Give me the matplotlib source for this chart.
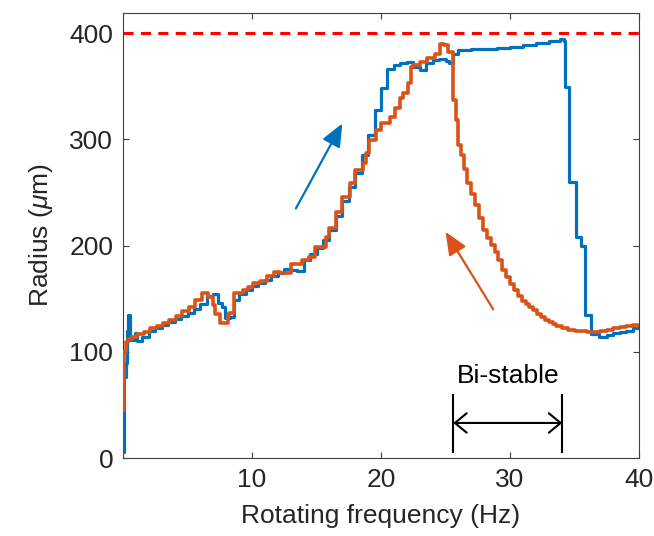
import matplotlib
matplotlib.use("Agg")
import matplotlib.pyplot as plt

plt.rcParams['font.family'] = ['Liberation Sans', 'DejaVu Sans']
plt.rcParams['mathtext.fontset'] = 'custom'
plt.rcParams['mathtext.rm'] = 'Liberation Sans'
plt.rcParams['mathtext.it'] = 'Liberation Sans:italic'

# Forward sweep (increasing frequency) - blue
up_freq = [0.0, 0.1, 0.2, 0.3, 0.4, 0.55, 0.9, 1.1, 1.5, 2.0, 2.5, 3.0, 3.5, 4.0, 4.5,
           5.0, 5.5, 6.0, 6.5, 7.0, 7.4, 7.7, 7.9, 8.3, 8.6, 9.0, 9.5, 10.0, 10.5, 11.0,
           11.5, 12.0, 12.5, 13.0, 13.5, 14.0, 14.5, 15.0, 15.5, 16.0, 16.5, 17.0, 17.5,
           18.0, 18.5, 19.0, 19.5, 20.0, 20.5, 21.0, 21.5, 22.0, 22.5, 23.0, 23.5, 24.0,
           24.5, 25.0, 25.3, 25.6, 26.0, 27.0, 28.0, 29.0, 30.0, 31.0, 32.0, 33.0, 33.9,
           34.2, 34.25, 34.55, 34.6, 35.1, 35.5, 35.8, 36.3, 36.9, 37.5, 38.0, 38.5, 39.0,
           39.5, 40.0]
up_radius = [6, 76, 89, 120, 135, 111, 118, 110, 114, 120, 122, 125, 128, 131, 134,
             137, 140, 145, 153, 154, 146, 142, 132, 133, 149, 154, 158, 162, 165, 168,
             171, 174, 178, 177, 176, 186, 192, 198, 205, 215, 228, 242, 255,
             268, 285, 304, 328, 348, 366, 370, 372, 373, 368, 365, 372, 375,
             376, 374, 372, 380, 384, 385, 385, 386, 387, 389, 391, 393, 395,
             393, 349, 334, 260, 208, 200, 135, 117, 114, 116, 118, 119, 120,
             122, 124]

# Backward sweep (decreasing frequency) - orange
down_freq = [40.0, 39.5, 39.0, 38.5, 38.0, 37.5, 37.0, 36.5, 36.0, 35.5, 35.0, 34.5, 34.0,
             33.6, 33.3, 33.0, 32.7, 32.4, 32.1, 31.8, 31.5, 31.2, 30.9, 30.6, 30.3, 30.0,
             29.7, 29.4, 29.1, 28.8, 28.5, 28.2, 27.9, 27.6, 27.3, 27.0, 26.7, 26.4, 26.2,
             26.0, 25.8, 25.6, 25.2, 24.9, 24.6, 24.2, 23.6, 23.0, 22.5,
             22.3, 22.1, 21.7, 21.5, 21.1, 20.7, 20.0, 19.6, 19.1, 18.8, 18.6, 18.0, 17.6,
             17.0, 16.5, 16.0, 15.7, 14.9, 14.4, 13.9, 13.0, 12.2, 11.7, 11.2, 10.6, 10.1,
             9.7, 9.3, 8.6, 8.6, 8.2, 8.1, 7.7, 7.5, 7.1, 7.0, 6.6, 6.1, 5.6, 5.1, 4.6, 4.1,
             3.6, 3.1, 2.6, 2.1, 1.6, 1.1, 0.7, 0.4, 0.2, 0.1]
down_radius = [125, 124, 123, 122, 121, 120, 119, 119, 120, 120, 121, 122, 124,
               126, 128, 130, 133, 136, 139, 142, 145, 148, 153, 158, 164, 170,
               177, 186, 194, 201, 207, 215, 226, 238, 249, 259, 272, 285, 295,
               318, 337, 382, 389, 390, 380, 377, 373, 370, 368,
               353, 344, 339, 330, 321, 315, 309, 299, 287, 278, 271, 259, 246,
               232, 217, 208, 199, 189, 186, 183, 174, 175, 171, 167, 165, 161,
               158, 155, 149, 137, 135, 127, 127, 136, 144, 152, 155, 149, 142, 138, 134, 130,
               127, 124, 122, 119, 117, 114, 112, 109, 100, 45]

limit_radius = 400
xticks = [10, 20, 30, 40]
yticks = [0, 100, 200, 300, 400]

blue = '#0072BD'
orange = '#D95319'
txt = '#262626'

fig = plt.figure(figsize=(6.54, 5.36), dpi=100)
ax = fig.add_axes([0.1881, 0.1455, 0.789, 0.8302])

ax.plot(up_freq, up_radius, color=blue, lw=2.3, drawstyle='steps-post', zorder=3)
ax.plot(down_freq, down_radius, color=orange, lw=2.6, drawstyle='steps-post', zorder=4)

ln, = ax.plot([0, 40], [limit_radius, limit_radius], color='#ff0000', lw=2.2, zorder=2)
ln.set_dashes([3.3, 2.4])

# direction arrows
ax.annotate('', xy=(17.0, 315), xytext=(13.4, 235),
            arrowprops=dict(arrowstyle='-|>,head_length=1.4,head_width=0.6',
                            color=blue, lw=1.6, mutation_scale=10, shrinkA=0, shrinkB=0))
ax.annotate('', xy=(25.0, 213), xytext=(28.7, 140),
            arrowprops=dict(arrowstyle='-|>,head_length=1.4,head_width=0.6',
                            color=orange, lw=1.6, mutation_scale=10, shrinkA=0, shrinkB=0))

# bi-stable annotation
bx0, bx1 = 25.6, 34.05
ax.plot([bx0, bx0], [6, 59], color='black', lw=1.5)
ax.plot([bx1, bx1], [6, 59], color='black', lw=1.5)
ax.annotate('', xy=(bx0, 33), xytext=(bx1, 33),
            arrowprops=dict(arrowstyle='<->,head_length=0.85,head_width=0.7',
                            color='black', lw=1.5, mutation_scale=10, shrinkA=0, shrinkB=0))
ax.text((bx0 + bx1) / 2, 77, 'Bi-stable', ha='center', va='center', fontsize=19, color='black')

ax.set_xlim(0, 40)
ax.set_ylim(0, 419)
ax.set_xticks(xticks)
ax.set_yticks(yticks)
ax.tick_params(direction='in', length=4, width=0.8, color='#404040', labelsize=19,
               labelcolor=txt, top=True, right=True, pad=7)
for s in ax.spines.values():
    s.set_color('#404040')
    s.set_linewidth(0.8)

ax.set_xlabel('Rotating frequency (Hz)', fontsize=19, color=txt, labelpad=9)
ax.set_ylabel(r'Radius ($\mu$m)', fontsize=19, color=txt, labelpad=10)

fig.savefig('out.png', dpi=100)
